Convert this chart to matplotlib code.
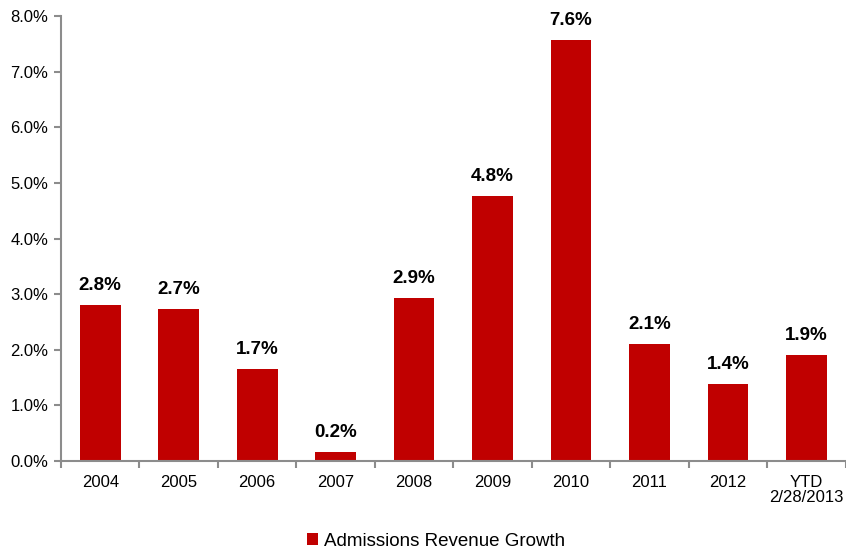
import matplotlib.pyplot as plt
import numpy as np

plt.rcParams['font.family'] = ['Liberation Sans', 'DejaVu Sans']

# admissions revenue growth by year, in percent
categories = ['2004', '2005', '2006', '2007', '2008', '2009', '2010', '2011', '2012', 'YTD\n2/28/2013']
growth = [2.81, 2.73, 1.66, 0.16, 2.93, 4.76, 7.57, 2.10, 1.38, 1.91]
yticks = [0, 1, 2, 3, 4, 5, 6, 7, 8]

bar_color = '#C00000'
axis_color = '#8C8C8C'

fig = plt.figure(figsize=(8.46, 5.5), dpi=100)
ax = fig.add_axes([0.0721, 0.1618, 0.9275, 0.8091])

x = np.arange(len(categories))
bars = ax.bar(x, growth, width=0.52, color=bar_color, label='Admissions Revenue Growth')

for xi, v in zip(x, growth):
    ax.text(xi, v + 0.2, f'{v:.1f}%', ha='center', va='bottom',
            fontsize=13.5, fontweight='bold', color='black')

ax.set_xlim(-0.5, len(categories) - 0.5)
ax.set_ylim(0, 8)
ax.set_yticks(yticks)
ax.set_yticklabels([f'{t:.1f}%' for t in yticks], fontsize=12)

# category labels centred, tick marks between categories
ax.set_xticks(x)
ax.set_xticklabels(categories, fontsize=12, linespacing=1.0)
ax.tick_params(axis='x', length=0, pad=10)
ax.set_xticks(np.arange(-0.5, len(categories)), minor=True)
ax.tick_params(axis='x', which='minor', length=5, color=axis_color, width=1.5)
ax.tick_params(axis='y', length=5, color=axis_color, width=1.5, pad=4)

for side in ['top', 'right']:
    ax.spines[side].set_visible(False)
for side in ['left', 'bottom']:
    ax.spines[side].set_color(axis_color)
    ax.spines[side].set_linewidth(1.5)

fig.legend(handles=[bars], labels=['Admissions Revenue Growth'], loc='center',
           bbox_to_anchor=(0.515, 0.016), frameon=False, fontsize=13.5,
           handlelength=0.6, handleheight=0.6, handletextpad=0.3)

fig.savefig('out.png', dpi=100)
